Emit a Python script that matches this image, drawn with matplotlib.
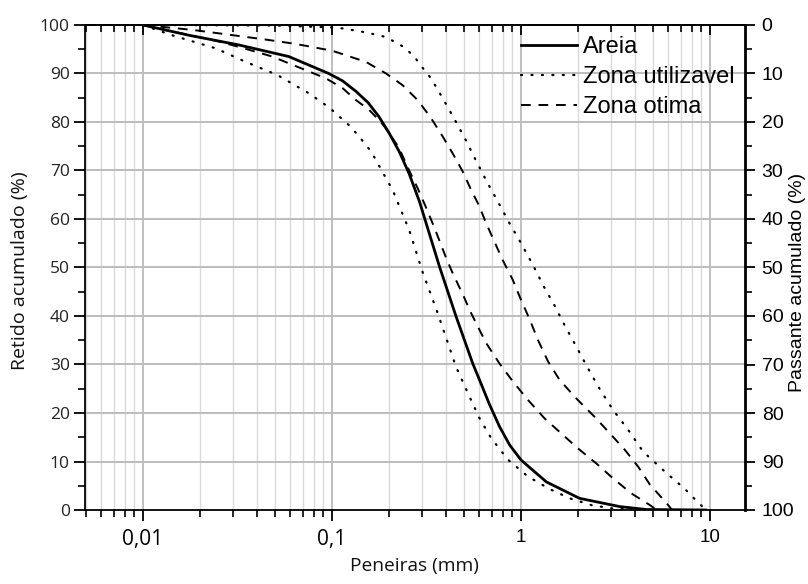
import matplotlib
matplotlib.use("Agg")
import matplotlib.pyplot as plt
from matplotlib.ticker import FixedLocator, NullFormatter, MultipleLocator

# ---------------- data ----------------
areia_x = [0.01, 0.0174, 0.032, 0.059, 0.096, 0.1135, 0.134, 0.155, 0.177, 0.2005, 0.2266,
           0.256, 0.29, 0.37, 0.453, 0.555, 0.603, 0.68, 0.769, 0.87, 1.0, 1.36, 2.04,
           3.33, 4.6, 9.5]
areia_y = [100, 97.9, 95.9, 93.5, 90.0, 88.5, 86.3, 84.0, 81.1, 77.7, 73.9,
           69.3, 63.6, 50.2, 39.9, 30.2, 26.8, 21.8, 17.2, 13.4, 10.3, 5.8, 2.4,
           0.7, 0.1, 0]

util_inf_x = [0.01, 0.0142, 0.0242, 0.0349, 0.0513, 0.0755, 0.0965, 0.1257, 0.154, 0.167,
              0.193, 0.209, 0.231, 0.256, 0.301, 0.362, 0.453, 0.533, 0.603, 0.695,
              0.851, 1.087, 1.42, 1.81, 2.36, 3.07, 4.75]
util_inf_y = [100, 97.9, 95.2, 92.4, 89.7, 85.9, 83.0, 79.0, 74.9, 72.8,
              68.4, 66.0, 61.9, 57.7, 49.1, 40.6, 29.5, 23.4, 18.9, 14.8,
              10.4, 6.9, 4.3, 2.4, 1.0, 0.3, 0]

util_sup_x = [0.01, 0.05, 0.1, 0.1135, 0.15, 0.189, 0.213, 0.241, 0.272, 0.301, 0.334,
              0.385, 0.444, 0.508, 0.578, 0.659, 0.753, 0.869, 1.0, 1.156, 1.305, 1.506,
              1.715, 1.96, 2.26, 2.61, 3.07, 3.69, 4.43, 5.77, 7.37, 8.32, 9.5]
util_sup_y = [100, 99.9, 99.5, 99.3, 98.5, 97.6, 96.6, 95.4, 93.5, 91.2, 89.0,
              84.9, 80.6, 76.4, 72.0, 67.7, 63.6, 59.1, 55.0, 50.5, 46.4, 42.1,
              37.8, 33.7, 29.2, 24.9, 20.6, 16.5, 12.0, 7.9, 4.3, 2.2, 0]

otima_inf_x = [0.01, 0.015, 0.0252, 0.032, 0.0394, 0.0482, 0.059, 0.0725, 0.0927, 0.1135,
               0.134, 0.157, 0.177, 0.19, 0.225, 0.256, 0.284, 0.314, 0.348, 0.401, 0.435,
               0.491, 0.544, 0.603, 0.654, 0.769, 0.905, 1.087, 1.33, 1.63, 2.0, 2.5,
               3.07, 3.84, 4.81, 5.2]
otima_inf_y = [100, 98.5, 96.6, 95.5, 94.5, 93.5, 92.1, 90.7, 89.0, 87.0,
               84.5, 82.5, 80.4, 79.0, 74.8, 70.0, 66.3, 62.4, 58.2, 52.0, 48.8,
               44.5, 40.6, 37.1, 34.4, 30.2, 26.5, 22.7, 18.9, 15.8, 12.7, 9.6,
               6.5, 3.4, 1.0, 0]

otima_sup_x = [0.01, 0.0182, 0.0273, 0.0445, 0.0641, 0.1, 0.151, 0.193, 0.236, 0.284, 0.334,
               0.385, 0.435, 0.491, 0.544, 0.597, 0.654, 0.723, 0.80, 0.905, 1.0, 1.11,
               1.23, 1.39, 1.60, 1.96, 2.45, 2.95, 3.54, 4.17, 4.81, 5.89, 6.3]
otima_sup_y = [100, 99.0, 98.1, 97.0, 96.1, 94.7, 92.4, 90.0, 87.6, 84.5, 80.8,
               77.0, 73.5, 69.8, 66.0, 62.9, 59.1, 55.3, 51.5, 47.4, 43.3, 39.3,
               35.0, 30.6, 26.8, 23.0, 19.2, 15.8, 12.4, 8.9, 5.2, 1.4, 0]

x_major = [0.01, 0.1, 1, 10]
x_labels = ["0,01", "0,1", "1", "10"]
y_ticks = list(range(0, 101, 10))
labels = ["Areia", "Zona utilizavel", "Zona otima"]

# ---------------- figure ----------------
fig = plt.figure(figsize=(8.08, 5.84), dpi=100)
ax = fig.add_axes([85 / 808, 74 / 584, 660 / 808, 485 / 584])
ax.set_xscale("log")
ax.set_xlim(0.00493, 15.3)
ax.set_ylim(0, 100)

minors = [m * 10.0 ** e for e in range(-3, 2) for m in range(2, 10)]
minors = [v for v in minors if 0.0049 <= v <= 15.3]

# grid
for v in minors:
    ax.axvline(v, color="#dadada", lw=1.0, zorder=0)
for v in x_major:
    ax.axvline(v, color="#b4b4b4", lw=1.2, zorder=0)
for v in y_ticks[1:-1]:
    ax.axhline(v, color="#bdbdbd", lw=1.4, zorder=0)

# curves
ax.plot(areia_x, areia_y, color="black", lw=2.0, label=labels[0], zorder=3)
ax.plot(util_inf_x, util_inf_y, color="black", lw=1.6, linestyle=(0, (0.5, 4.2)),
        dash_capstyle="round", label=labels[1], zorder=3)
ax.plot(util_sup_x, util_sup_y, color="black", lw=1.6, linestyle=(0, (0.5, 4.2)),
        dash_capstyle="round", zorder=3)
ax.plot(otima_inf_x, otima_inf_y, color="black", lw=1.4, linestyle=(0, (5, 4)),
        label=labels[2], zorder=3)
ax.plot(otima_sup_x, otima_sup_y, color="black", lw=1.4, linestyle=(0, (5, 4)), zorder=3)

# spines
for s in ["left", "bottom", "top"]:
    ax.spines[s].set_linewidth(1.3)
ax.spines["right"].set_visible(False)

# x ticks
ax.xaxis.set_major_locator(FixedLocator(x_major))
ax.xaxis.set_minor_locator(FixedLocator(minors))
ax.xaxis.set_minor_formatter(NullFormatter())
ax.set_xticklabels(x_labels)
ax.tick_params(axis="x", which="major", direction="out", length=8, width=1.3,
               labelsize=14, pad=6, top=False)
ax.tick_params(axis="x", which="minor", direction="out", length=5, width=1.2, top=False)
for lab in ax.get_xticklabels():
    if lab.get_text() in ("0,01", "0,1"):
        lab.set_fontfamily("Open Sans")
        lab.set_fontsize(15)
    else:
        lab.set_fontfamily("Liberation Sans")
        lab.set_fontsize(13.5)

# top ticks (inward) via secondary axis
top = ax.secondary_xaxis("top")
top.xaxis.set_major_locator(FixedLocator(x_major))
top.xaxis.set_minor_locator(FixedLocator(minors))
top.xaxis.set_major_formatter(NullFormatter())
top.xaxis.set_minor_formatter(NullFormatter())
top.tick_params(which="major", direction="in", length=7, width=1.3)
top.tick_params(which="minor", direction="in", length=5, width=1.2)
top.spines["top"].set_linewidth(1.3)

# y ticks left
ax.set_yticks(y_ticks)
ax.yaxis.set_minor_locator(MultipleLocator(5))
ax.tick_params(axis="y", which="major", direction="out", length=8, width=1.3,
               labelsize=12.5, pad=3)
ax.tick_params(axis="y", which="minor", direction="out", length=5, width=1.2)
for lab in ax.get_yticklabels():
    lab.set_fontfamily("Open Sans")
    lab.set_color("#222222")

# right axis (Passante)
ax2 = ax.twinx()
ax2.set_ylim(100, 0)
ax2.set_yticks(y_ticks)
ax2.yaxis.set_minor_locator(MultipleLocator(5))
for s in ["left", "bottom", "top"]:
    ax2.spines[s].set_visible(False)
ax2.spines["right"].set_linewidth(2.0)
ax2.tick_params(axis="y", which="major", direction="out", length=7, width=1.3,
                labelsize=14, pad=5)
ax2.tick_params(axis="y", which="minor", direction="out", length=5, width=1.2)
for lab in ax2.get_yticklabels():
    lab.set_fontfamily("Liberation Sans")

# axis labels
fig.text(20 / 808, 1 - 271 / 584, "Retido acumulado (%)", rotation=90, ha="center",
         va="center", fontsize=14, family="Open Sans", color="#111111")
fig.text(798 / 808, 1 - 282 / 584, "Passante acumulado (%)", rotation=90, ha="center",
         va="center", fontsize=14, family="Liberation Sans")
fig.text(414 / 808, 1 - 566 / 584, "Peneiras (mm)", ha="center", va="center",
         fontsize=13.8, family="Open Sans", color="#111111")

# legend
leg = ax.legend(loc="upper left", bbox_to_anchor=(521 / 808, 1 - 36 / 584),
                bbox_transform=fig.transFigure, frameon=False,
                handlelength=2.37, handletextpad=0.25, labelspacing=0.34,
                borderpad=0, borderaxespad=0, prop={"family": "Liberation Sans", "size": 17})

fig.savefig("out.png", dpi=100)
